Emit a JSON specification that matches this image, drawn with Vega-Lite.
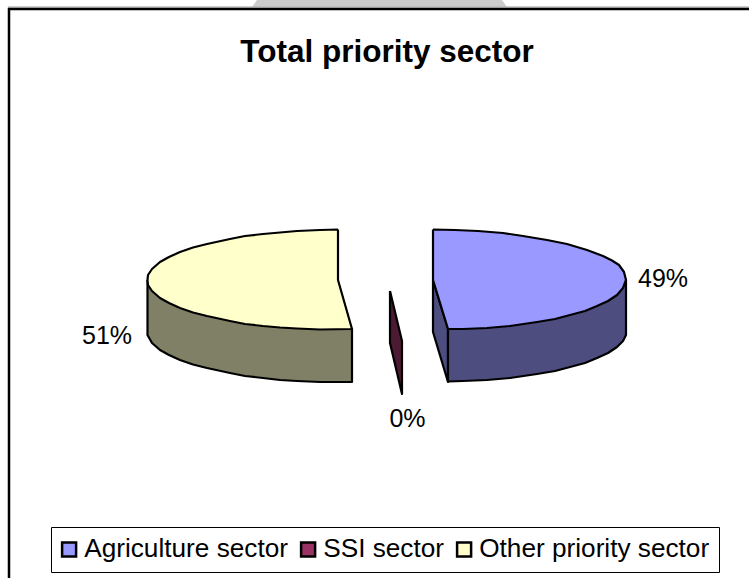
{
  "$schema": "https://vega.github.io/schema/vega-lite/v6.json",
  "width": 749,
  "height": 578,
  "padding": 0,
  "autosize": "none",
  "background": "white",
  "title": {
    "text": "Total priority sector",
    "font": "Liberation Sans",
    "fontSize": 31.5,
    "fontWeight": "bold",
    "color": "black",
    "anchor": "middle",
    "frame": "group",
    "baseline": "alphabetic",
    "offset": -93,
    "dx": 12.5
  },
  "config": {"view": {"stroke": null}},
  "datasets": {
    "tab": [
      {"x": 252, "y": 7, "seq": 0},
      {"x": 257, "y": 0, "seq": 1},
      {"x": 502, "y": 0, "seq": 2},
      {"x": 507, "y": 7, "seq": 3}
    ],
    "edge": [
      {"x": 8, "y": 7, "seq": 0},
      {"x": 749, "y": 7, "seq": 1}
    ],
    "frame": [
      {"x": 9, "y": 578, "seq": 0},
      {"x": 9, "y": 9, "seq": 1},
      {"x": 749, "y": 9, "seq": 2}
    ],
    "faces": [
      {"face": "Other priority sector side", "x": 147.5, "y": 280, "seq": 0},
      {"face": "Other priority sector side", "x": 147.5, "y": 335, "seq": 1},
      {"face": "Other priority sector side", "x": 152, "y": 343, "seq": 2},
      {"face": "Other priority sector side", "x": 160, "y": 350, "seq": 3},
      {"face": "Other priority sector side", "x": 169, "y": 355, "seq": 4},
      {"face": "Other priority sector side", "x": 180, "y": 360, "seq": 5},
      {"face": "Other priority sector side", "x": 193, "y": 364.5, "seq": 6},
      {"face": "Other priority sector side", "x": 207, "y": 368, "seq": 7},
      {"face": "Other priority sector side", "x": 230, "y": 373, "seq": 8},
      {"face": "Other priority sector side", "x": 245, "y": 376, "seq": 9},
      {"face": "Other priority sector side", "x": 263, "y": 378, "seq": 10},
      {"face": "Other priority sector side", "x": 280, "y": 380, "seq": 11},
      {"face": "Other priority sector side", "x": 297, "y": 381, "seq": 12},
      {"face": "Other priority sector side", "x": 320, "y": 382, "seq": 13},
      {"face": "Other priority sector side", "x": 352, "y": 382, "seq": 14},
      {"face": "Other priority sector side", "x": 352, "y": 329, "seq": 15},
      {"face": "Other priority sector side", "x": 147.5, "y": 280, "seq": 16},

      {"face": "Other priority sector", "x": 338, "y": 229.5, "seq": 0},
      {"face": "Other priority sector", "x": 320, "y": 230, "seq": 1},
      {"face": "Other priority sector", "x": 297, "y": 231, "seq": 2},
      {"face": "Other priority sector", "x": 263, "y": 234, "seq": 3},
      {"face": "Other priority sector", "x": 245, "y": 236, "seq": 4},
      {"face": "Other priority sector", "x": 230, "y": 239, "seq": 5},
      {"face": "Other priority sector", "x": 207, "y": 244, "seq": 6},
      {"face": "Other priority sector", "x": 193, "y": 247.5, "seq": 7},
      {"face": "Other priority sector", "x": 180, "y": 252, "seq": 8},
      {"face": "Other priority sector", "x": 169, "y": 257, "seq": 9},
      {"face": "Other priority sector", "x": 160, "y": 262, "seq": 10},
      {"face": "Other priority sector", "x": 152, "y": 269, "seq": 11},
      {"face": "Other priority sector", "x": 148, "y": 275, "seq": 12},
      {"face": "Other priority sector", "x": 147.5, "y": 280, "seq": 13},
      {"face": "Other priority sector", "x": 148, "y": 285, "seq": 14},
      {"face": "Other priority sector", "x": 152, "y": 291, "seq": 15},
      {"face": "Other priority sector", "x": 160, "y": 298, "seq": 16},
      {"face": "Other priority sector", "x": 169, "y": 303, "seq": 17},
      {"face": "Other priority sector", "x": 180, "y": 308, "seq": 18},
      {"face": "Other priority sector", "x": 193, "y": 312.5, "seq": 19},
      {"face": "Other priority sector", "x": 207, "y": 316, "seq": 20},
      {"face": "Other priority sector", "x": 230, "y": 321, "seq": 21},
      {"face": "Other priority sector", "x": 245, "y": 324, "seq": 22},
      {"face": "Other priority sector", "x": 263, "y": 326, "seq": 23},
      {"face": "Other priority sector", "x": 280, "y": 327.5, "seq": 24},
      {"face": "Other priority sector", "x": 297, "y": 328.5, "seq": 25},
      {"face": "Other priority sector", "x": 320, "y": 329.5, "seq": 26},
      {"face": "Other priority sector", "x": 352, "y": 329, "seq": 27},
      {"face": "Other priority sector", "x": 338, "y": 280, "seq": 28},
      {"face": "Other priority sector", "x": 338, "y": 229.5, "seq": 29},

      {"face": "SSI sector side", "x": 390, "y": 291, "seq": 0},
      {"face": "SSI sector side", "x": 402, "y": 341, "seq": 1},
      {"face": "SSI sector side", "x": 402, "y": 394, "seq": 2},
      {"face": "SSI sector side", "x": 390, "y": 343, "seq": 3},
      {"face": "SSI sector side", "x": 390, "y": 291, "seq": 4},

      {"face": "Agriculture sector inner", "x": 433, "y": 280, "seq": 0},
      {"face": "Agriculture sector inner", "x": 448, "y": 329, "seq": 1},
      {"face": "Agriculture sector inner", "x": 448, "y": 382, "seq": 2},
      {"face": "Agriculture sector inner", "x": 433, "y": 332, "seq": 3},
      {"face": "Agriculture sector inner", "x": 433, "y": 280, "seq": 4},

      {"face": "Agriculture sector side", "x": 448, "y": 329, "seq": 0},
      {"face": "Agriculture sector side", "x": 448, "y": 381.5, "seq": 1},
      {"face": "Agriculture sector side", "x": 463, "y": 381, "seq": 2},
      {"face": "Agriculture sector side", "x": 487, "y": 380, "seq": 3},
      {"face": "Agriculture sector side", "x": 510, "y": 378, "seq": 4},
      {"face": "Agriculture sector side", "x": 537, "y": 374, "seq": 5},
      {"face": "Agriculture sector side", "x": 555, "y": 371, "seq": 6},
      {"face": "Agriculture sector side", "x": 570, "y": 367, "seq": 7},
      {"face": "Agriculture sector side", "x": 585, "y": 363, "seq": 8},
      {"face": "Agriculture sector side", "x": 597, "y": 358, "seq": 9},
      {"face": "Agriculture sector side", "x": 608, "y": 353, "seq": 10},
      {"face": "Agriculture sector side", "x": 617, "y": 347, "seq": 11},
      {"face": "Agriculture sector side", "x": 623, "y": 341, "seq": 12},
      {"face": "Agriculture sector side", "x": 626, "y": 335, "seq": 13},
      {"face": "Agriculture sector side", "x": 626, "y": 280, "seq": 14},
      {"face": "Agriculture sector side", "x": 448, "y": 329, "seq": 15},

      {"face": "Agriculture sector", "x": 433, "y": 229.5, "seq": 0},
      {"face": "Agriculture sector", "x": 455, "y": 230, "seq": 1},
      {"face": "Agriculture sector", "x": 478, "y": 231, "seq": 2},
      {"face": "Agriculture sector", "x": 503, "y": 233, "seq": 3},
      {"face": "Agriculture sector", "x": 523, "y": 236, "seq": 4},
      {"face": "Agriculture sector", "x": 547, "y": 240, "seq": 5},
      {"face": "Agriculture sector", "x": 567, "y": 244, "seq": 6},
      {"face": "Agriculture sector", "x": 587, "y": 250, "seq": 7},
      {"face": "Agriculture sector", "x": 603, "y": 256, "seq": 8},
      {"face": "Agriculture sector", "x": 612, "y": 260.5, "seq": 9},
      {"face": "Agriculture sector", "x": 619, "y": 265, "seq": 10},
      {"face": "Agriculture sector", "x": 624, "y": 272, "seq": 11},
      {"face": "Agriculture sector", "x": 626, "y": 280, "seq": 12},
      {"face": "Agriculture sector", "x": 623, "y": 288, "seq": 13},
      {"face": "Agriculture sector", "x": 617, "y": 295, "seq": 14},
      {"face": "Agriculture sector", "x": 608, "y": 301, "seq": 15},
      {"face": "Agriculture sector", "x": 597, "y": 306, "seq": 16},
      {"face": "Agriculture sector", "x": 585, "y": 311, "seq": 17},
      {"face": "Agriculture sector", "x": 570, "y": 315, "seq": 18},
      {"face": "Agriculture sector", "x": 555, "y": 319, "seq": 19},
      {"face": "Agriculture sector", "x": 537, "y": 322, "seq": 20},
      {"face": "Agriculture sector", "x": 510, "y": 326, "seq": 21},
      {"face": "Agriculture sector", "x": 487, "y": 328, "seq": 22},
      {"face": "Agriculture sector", "x": 463, "y": 329, "seq": 23},
      {"face": "Agriculture sector", "x": 448, "y": 329, "seq": 24},
      {"face": "Agriculture sector", "x": 433, "y": 280, "seq": 25},
      {"face": "Agriculture sector", "x": 433, "y": 229.5, "seq": 26}
    ],
    "shares": [
      {"sector": "Agriculture sector", "share": 0.49, "x": 663, "y": 279},
      {"sector": "SSI sector", "share": 0, "x": 407.5, "y": 419},
      {"sector": "Other priority sector", "share": 0.51, "x": 107, "y": 336}
    ]
  },
  "encoding": {
    "x": {"field": "x", "type": "quantitative", "scale": {"domain": [0, 749], "nice": false, "zero": false}, "axis": null},
    "y": {"field": "y", "type": "quantitative", "scale": {"domain": [578, 0], "nice": false, "zero": false}, "axis": null}
  },
  "layer": [
    {
      "data": {"name": "tab"},
      "mark": {"type": "line", "fill": "#cccccc", "stroke": null},
      "encoding": {"order": {"field": "seq", "type": "ordinal"}}
    },
    {
      "data": {"name": "edge"},
      "mark": {"type": "line", "stroke": "#bdbdbd", "strokeWidth": 1.5},
      "encoding": {"order": {"field": "seq", "type": "ordinal"}}
    },
    {
      "data": {"name": "frame"},
      "mark": {"type": "line", "stroke": "black", "strokeWidth": 2.5, "strokeJoin": "miter"},
      "encoding": {"order": {"field": "seq", "type": "ordinal"}}
    },
    {
      "data": {"name": "faces"},
      "mark": {"type": "line", "stroke": "black", "strokeWidth": 2.2, "strokeJoin": "round", "opacity": 1},
      "encoding": {
        "order": {"field": "seq", "type": "ordinal"},
        "fill": {
          "field": "face",
          "type": "nominal",
          "scale": {
            "domain": [
              "Agriculture sector", "SSI sector", "Other priority sector",
              "Agriculture sector side", "Agriculture sector inner", "SSI sector side", "Other priority sector side"
            ],
            "range": ["#9999ff", "#993366", "#ffffcc", "#4d4d80", "#4d4d80", "#4d1a33", "#808066"]
          },
          "legend": {
            "title": null,
            "values": ["Agriculture sector", "SSI sector", "Other priority sector"],
            "orient": "none",
            "legendX": 51,
            "legendY": 527,
            "direction": "horizontal",
            "columns": 3,
            "padding": 9,
            "strokeColor": "black",
            "fillColor": "white",
            "symbolType": "square",
            "symbolSize": 196,
            "symbolOffset": -4,
            "symbolStrokeColor": "black",
            "symbolStrokeWidth": 2.5,
            "labelOffset": 2,
            "labelFont": "Liberation Sans",
            "labelFontSize": 26.2,
            "labelColor": "black",
            "labelLimit": 300,
            "columnPadding": 8
          }
        }
      }
    },
    {
      "data": {"name": "shares"},
      "mark": {"type": "text", "font": "Liberation Sans", "fontSize": 25, "color": "black"},
      "encoding": {
        "text": {"field": "share", "type": "quantitative", "format": ".0%"}
      }
    }
  ]
}
